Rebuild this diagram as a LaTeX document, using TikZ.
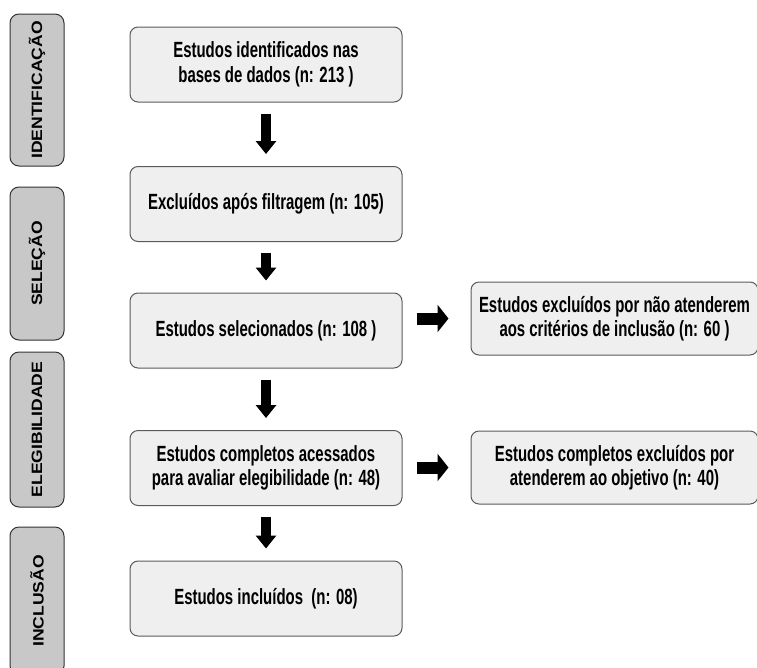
\documentclass[tikz,border=0pt]{standalone}
\usepackage{fontspec}
\usetikzlibrary{arrows.meta,calc}
\newfontfamily\narrowfont[FakeStretch=0.68]{Liberation Sans}
\newfontfamily\widefont[FakeStretch=1.17]{Liberation Sans}
\definecolor{boxfill}{HTML}{EFEFEF}
\definecolor{phasefill}{HTML}{C8C8C8}
\definecolor{boxline}{HTML}{5A5A5A}
\begin{document}
\begin{tikzpicture}[x=1pt,y=-1pt,
  box/.style={draw=boxline, line width=1pt, fill=boxfill, rounded corners=8pt,
    minimum width=272pt, minimum height=75pt, align=center,
    font=\narrowfont\bfseries\fontsize{22}{24.5}\selectfont},
  sidebox/.style={box, minimum width=287pt, minimum height=73pt},
  phase/.style={draw=black!80, line width=1pt, fill=phasefill, rounded corners=9pt,
    minimum height=54pt, rotate=90,
    font=\widefont\bfseries\fontsize{15}{18}\selectfont},
  downarrow/.style={line width=10pt, -{Triangle[length=13pt,width=20pt]},
    shorten <=11pt, shorten >=12pt},
  sidearrow/.style={line width=12pt, -{Triangle[length=11pt,width=27pt]},
    shorten <=14pt, shorten >=22pt}]

\useasboundingbox (0,0) rectangle (757,667);

% Phase labels on the left
\node[phase, minimum width=152pt] (pIdent) at (37,90) {IDENTIFICAÇÃO};
\node[phase, minimum width=153pt] (pSel) at (37,263.5) {SELEÇÃO};
\node[phase, minimum width=155pt] (pEleg) at (37,429.5) {ELEGIBILIDADE};
\node[phase, minimum width=148pt] (pIncl) at (37,601) {INCLUSÃO};

% Main flow boxes
\node[box] (ident) at (266,64.5) {Estudos identificados nas\\bases de dados (n: 213 )};
\node[box] (filtro) at (266,204) {Excluídos após filtragem (n: 105)};
\node[box] (selec) at (266,330.5) {Estudos selecionados (n: 108 )};
\node[box] (completos) at (266,468) {Estudos completos acessados\\para avaliar elegibilidade (n: 48)};
\node[box] (incluidos) at (266,598.5) {Estudos incluídos~ (n: 08)};

% Excluded studies on the right
\node[sidebox] (exclCrit) at (614.5,318.5) {Estudos excluídos por não atenderem\\aos critérios de inclusão (n: 60 )};
\node[sidebox] (exclObj) at (614.5,467.5) {Estudos completos excluídos por\\atenderem ao objetivo (n: 40)};

% Arrows down the flow
\draw[downarrow] (ident.south) -- (filtro.north);
\draw[downarrow] (filtro.south) -- (selec.north);
\draw[downarrow] (selec.south) -- (completos.north);
\draw[downarrow] (completos.south) -- (incluidos.north);

% Arrows to the right
\draw[sidearrow] (selec.east |- exclCrit.west) -- (exclCrit.west);
\draw[sidearrow] (completos.east |- exclObj.west) -- (exclObj.west);

\end{tikzpicture}
\end{document}
